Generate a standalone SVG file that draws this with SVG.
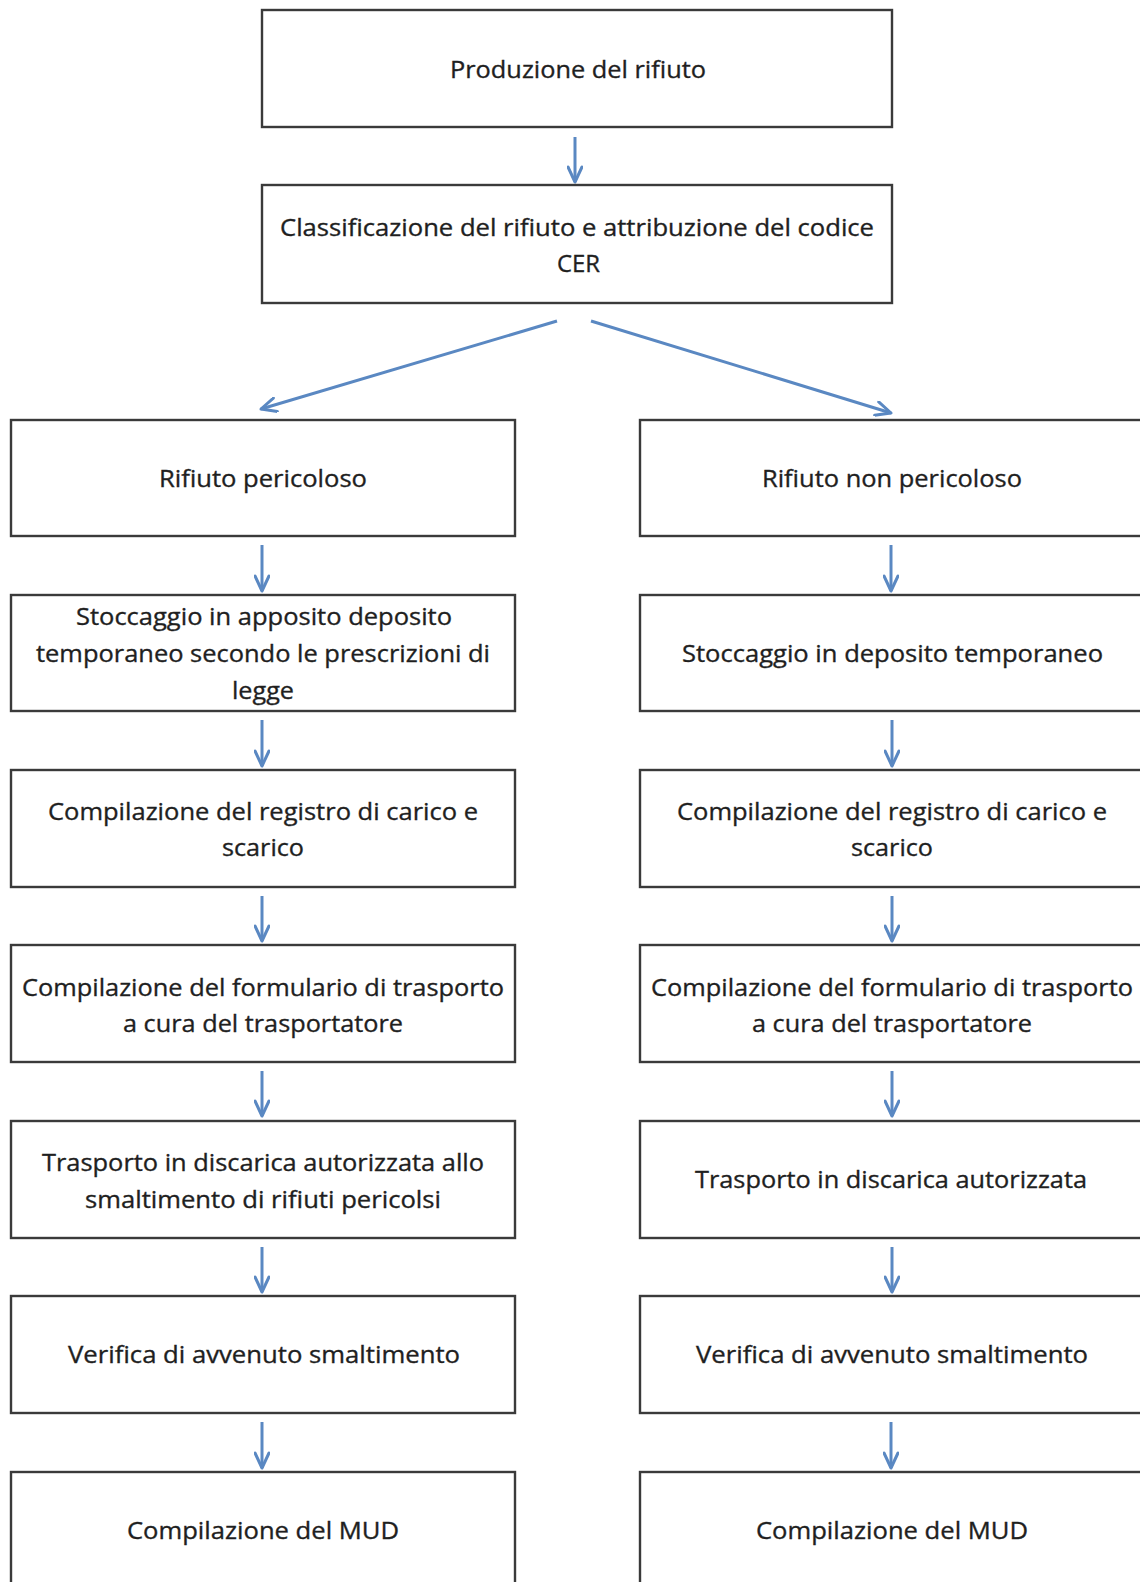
<svg xmlns="http://www.w3.org/2000/svg" width="1140" height="1582" viewBox="0 0 1140 1582">
  <style>
    .box { fill: #ffffff; stroke: #3a3a3a; stroke-width: 2.4; }
    .lbl { font-family: "Open Sans", "Liberation Sans", sans-serif; font-size: 24px; fill: #1f1f1f; stroke: #1f1f1f; stroke-width: 0.35; }
    .arr { fill: none; stroke: #5a88c2; stroke-width: 3; marker-end: url(#chev); }
  </style>
  <defs>
    <marker id="chev" viewBox="0 0 20 16" refX="18" refY="8" markerWidth="20" markerHeight="16" markerUnits="userSpaceOnUse" orient="auto">
      <path d="M3,1 L18,8 L3,15" fill="none" stroke="#5a88c2" stroke-width="3" stroke-linejoin="round" stroke-linecap="round"/>
    </marker>
  </defs>
  <rect width="1140" height="1582" fill="#ffffff"/>

  <!-- connectors -->
  <g id="connectors">
    <line class="arr" x1="575" y1="137" x2="575" y2="182"/>
    <line class="arr" x1="557" y1="321" x2="261" y2="409"/>
    <line class="arr" x1="591" y1="321" x2="891" y2="413"/>
    <!-- left column -->
    <line class="arr" x1="262" y1="545" x2="262" y2="591"/>
    <line class="arr" x1="262" y1="720" x2="262" y2="766"/>
    <line class="arr" x1="262" y1="896" x2="262" y2="941"/>
    <line class="arr" x1="262" y1="1071" x2="262" y2="1116"/>
    <line class="arr" x1="262" y1="1247" x2="262" y2="1292"/>
    <line class="arr" x1="262" y1="1422" x2="262" y2="1468"/>
    <!-- right column -->
    <line class="arr" x1="891" y1="545" x2="891" y2="591"/>
    <line class="arr" x1="892" y1="720" x2="892" y2="766"/>
    <line class="arr" x1="892" y1="896" x2="892" y2="941"/>
    <line class="arr" x1="892" y1="1071" x2="892" y2="1116"/>
    <line class="arr" x1="892" y1="1247" x2="892" y2="1292"/>
    <line class="arr" x1="891" y1="1422" x2="891" y2="1468"/>
  </g>

  <!-- top chain -->
  <g id="produzione">
    <rect class="box" x="262" y="10" width="630" height="117"/>
    <text class="lbl" x="450" y="78" textLength="256" lengthAdjust="spacingAndGlyphs">Produzione del rifiuto</text>
  </g>
  <g id="classificazione">
    <rect class="box" x="262" y="185" width="630" height="118"/>
    <text class="lbl" x="280" y="236" textLength="594" lengthAdjust="spacingAndGlyphs">Classificazione del rifiuto e attribuzione del codice</text>
    <text class="lbl" x="557" y="272" textLength="43" lengthAdjust="spacingAndGlyphs">CER</text>
  </g>

  <!-- left column: rifiuto pericoloso -->
  <g id="l1">
    <rect class="box" x="11" y="420" width="504" height="116"/>
    <text class="lbl" x="159" y="487" textLength="208" lengthAdjust="spacingAndGlyphs">Rifiuto pericoloso</text>
  </g>
  <g id="l2">
    <rect class="box" x="11" y="595" width="504" height="116"/>
    <text class="lbl" x="76" y="625" textLength="376" lengthAdjust="spacingAndGlyphs">Stoccaggio in apposito deposito</text>
    <text class="lbl" x="36" y="662" textLength="454" lengthAdjust="spacingAndGlyphs">temporaneo secondo le prescrizioni di</text>
    <text class="lbl" x="232" y="699" textLength="62" lengthAdjust="spacingAndGlyphs">legge</text>
  </g>
  <g id="l3">
    <rect class="box" x="11" y="770" width="504" height="117"/>
    <text class="lbl" x="48" y="820" textLength="430" lengthAdjust="spacingAndGlyphs">Compilazione del registro di carico e</text>
    <text class="lbl" x="222" y="856" textLength="82" lengthAdjust="spacingAndGlyphs">scarico</text>
  </g>
  <g id="l4">
    <rect class="box" x="11" y="945" width="504" height="117"/>
    <text class="lbl" x="22" y="996" textLength="482" lengthAdjust="spacingAndGlyphs">Compilazione del formulario di trasporto</text>
    <text class="lbl" x="123" y="1032" textLength="280" lengthAdjust="spacingAndGlyphs">a cura del trasportatore</text>
  </g>
  <g id="l5">
    <rect class="box" x="11" y="1121" width="504" height="117"/>
    <text class="lbl" x="42" y="1171" textLength="442" lengthAdjust="spacingAndGlyphs">Trasporto in discarica autorizzata allo</text>
    <text class="lbl" x="85" y="1208" textLength="356" lengthAdjust="spacingAndGlyphs">smaltimento di rifiuti pericolsi</text>
  </g>
  <g id="l6">
    <rect class="box" x="11" y="1296" width="504" height="117"/>
    <text class="lbl" x="68" y="1363" textLength="392" lengthAdjust="spacingAndGlyphs">Verifica di avvenuto smaltimento</text>
  </g>
  <g id="l7">
    <rect class="box" x="11" y="1472" width="504" height="130"/>
    <text class="lbl" x="127" y="1539" textLength="272" lengthAdjust="spacingAndGlyphs">Compilazione del MUD</text>
  </g>

  <!-- right column: rifiuto non pericoloso -->
  <g id="r1">
    <rect class="box" x="640" y="420" width="510" height="116"/>
    <text class="lbl" x="762" y="487" textLength="260" lengthAdjust="spacingAndGlyphs">Rifiuto non pericoloso</text>
  </g>
  <g id="r2">
    <rect class="box" x="640" y="595" width="510" height="116"/>
    <text class="lbl" x="682" y="662" textLength="421" lengthAdjust="spacingAndGlyphs">Stoccaggio in deposito temporaneo</text>
  </g>
  <g id="r3">
    <rect class="box" x="640" y="770" width="510" height="117"/>
    <text class="lbl" x="677" y="820" textLength="430" lengthAdjust="spacingAndGlyphs">Compilazione del registro di carico e</text>
    <text class="lbl" x="851" y="856" textLength="82" lengthAdjust="spacingAndGlyphs">scarico</text>
  </g>
  <g id="r4">
    <rect class="box" x="640" y="945" width="510" height="117"/>
    <text class="lbl" x="651" y="996" textLength="482" lengthAdjust="spacingAndGlyphs">Compilazione del formulario di trasporto</text>
    <text class="lbl" x="752" y="1032" textLength="280" lengthAdjust="spacingAndGlyphs">a cura del trasportatore</text>
  </g>
  <g id="r5">
    <rect class="box" x="640" y="1121" width="510" height="117"/>
    <text class="lbl" x="695" y="1188" textLength="392" lengthAdjust="spacingAndGlyphs">Trasporto in discarica autorizzata</text>
  </g>
  <g id="r6">
    <rect class="box" x="640" y="1296" width="510" height="117"/>
    <text class="lbl" x="696" y="1363" textLength="392" lengthAdjust="spacingAndGlyphs">Verifica di avvenuto smaltimento</text>
  </g>
  <g id="r7">
    <rect class="box" x="640" y="1472" width="510" height="130"/>
    <text class="lbl" x="756" y="1539" textLength="272" lengthAdjust="spacingAndGlyphs">Compilazione del MUD</text>
  </g>
</svg>
